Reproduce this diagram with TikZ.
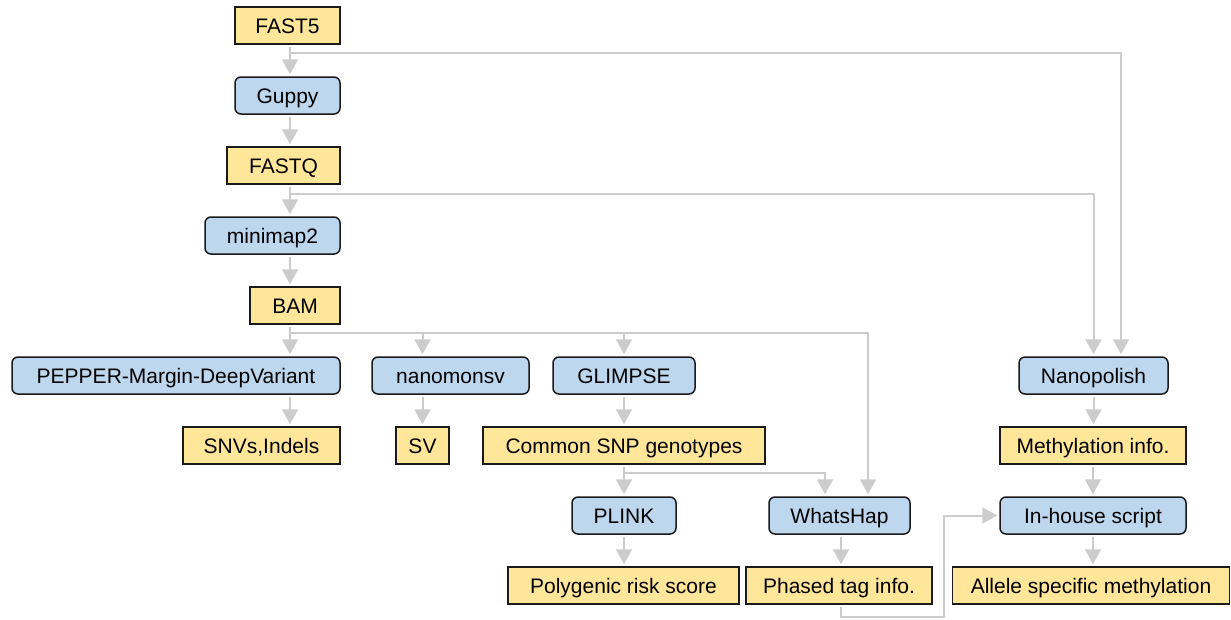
\documentclass[tikz,border=0pt]{standalone}
\usepackage{fontspec}
\setmainfont{Liberation Sans}
\usetikzlibrary{arrows.meta,calc}
\definecolor{fileY}{HTML}{FFE699}
\definecolor{toolB}{HTML}{BDD7EE}
\definecolor{conn}{HTML}{CCCCCC}
\definecolor{edge}{HTML}{1A1A1A}
\tikzset{
  box/.style={draw=edge, line width=1.5pt, minimum height=37pt, inner sep=0pt,
    text height=16.5pt, text depth=0pt, font=\fontsize{21}{25}\selectfont},
  filebox/.style={box, fill=fileY},
  toolbox/.style={box, fill=toolB, rounded corners=6pt},
  arr/.style={draw=conn, line width=2pt, shorten >=2pt, shorten <=2pt,
    -{Triangle[width=16pt,length=15pt]}},
  plain/.style={draw=conn, line width=2pt}
}
\begin{document}
\begin{tikzpicture}[x=1pt,y=-1pt]
\useasboundingbox (0,0) rectangle (1231,619);
% nodes
\node[filebox, minimum width=105pt] (fast5) at (287.5,25.5) {FAST5};
\node[toolbox, minimum width=105pt] (guppy) at (287.5,95.5) {Guppy};
\node[filebox, minimum width=113pt] (fastq) at (283.5,165.5) {FASTQ};
\node[toolbox, minimum width=135pt] (mm2) at (272.5,235.5) {minimap2};
\node[filebox, minimum width=90pt] (bam) at (295,305.5) {BAM};
\node[toolbox, minimum width=328pt] (pepper) at (176,375.5) {PEPPER-Margin-DeepVariant};
\node[filebox, minimum width=157pt] (snv) at (261.5,445.5) {SNVs,Indels};
\node[toolbox, minimum width=157pt] (nsv) at (450.5,375.5) {nanomonsv};
\node[filebox, minimum width=53pt] (sv) at (422.5,445.5) {SV};
\node[toolbox, minimum width=142pt] (glimpse) at (624,375.5) {GLIMPSE};
\node[filebox, minimum width=282pt] (snp) at (624,445.5) {Common SNP genotypes};
\node[toolbox, minimum width=104pt] (plink) at (624,515.5) {PLINK};
\node[toolbox, minimum width=141pt] (whap) at (839.5,515.5) {WhatsHap};
\node[filebox, minimum width=231pt] (prs) at (623.5,585.5) {Polygenic risk score};
\node[filebox, minimum width=186pt] (phased) at (839,585.5) {Phased tag info.};
\node[toolbox, minimum width=149pt] (npol) at (1093.5,375.5) {Nanopolish};
\node[filebox, minimum width=186pt] (meth) at (1093,445.5) {Methylation info.};
\node[toolbox, minimum width=186pt] (inh) at (1093,515.5) {In-house script};
\node[filebox, minimum width=277pt] (ase) at (1091,585.5) {Allele specific methylation};
% helper coordinates
\coordinate (sp) at (290,0);
\coordinate (j5) at (290,53);
\coordinate (jq) at (290,194);
\coordinate (jb) at (290,333);
\coordinate (jc) at (624,473);
\coordinate (jp) at (944,617);
% main spine
\draw[arr] (fast5.south -| sp) -- (guppy.north -| sp);
\draw[arr] (guppy.south -| sp) -- (fastq.north -| sp);
\draw[arr] (fastq.south -| sp) -- (mm2.north -| sp);
\draw[arr] (mm2.south -| sp) -- (bam.north -| sp);
\draw[arr] (bam.south -| sp) -- (pepper.north -| sp);
\draw[arr] (pepper.south -| sp) -- (snv.north -| sp);
% to nanopolish
\draw[arr, shorten <=0pt] (j5) -| ([xshift=27.5pt]npol.north);
\draw[arr, shorten <=0pt] (jq) -| (npol.north);
% BAM branches
\draw[arr, shorten <=0pt] (jb) -| (nsv.north -| sv.north);
\draw[arr, shorten <=0pt] (jb) -| (glimpse.north);
\draw[arr, shorten <=0pt] (jb) -| ([xshift=28.5pt]whap.north);
\draw[arr] (nsv.south -| sv.north) -- (sv.north);
\draw[arr] (glimpse.south) -- (snp.north);
\draw[arr] (snp.south) -- (plink.north);
\draw[arr, shorten <=0pt] (jc) -| ([xshift=-14.5pt]whap.north);
\draw[arr] (plink.south) -- (prs.north -| plink.south);
\draw[arr] ([xshift=1.5pt]whap.south) -- ([xshift=1.5pt]whap.south |- phased.north);
% nanopolish chain
\draw[arr] (npol.south) -- (npol.south |- meth.north);
\draw[arr] (meth.south) -- (inh.north);
\draw[arr] (inh.south) -- (inh.south |- ase.north);
% phased -> in-house
\draw[arr] ([xshift=1.5pt]phased.south) |- (jp) |- (inh.west);
\end{tikzpicture}
\end{document}
